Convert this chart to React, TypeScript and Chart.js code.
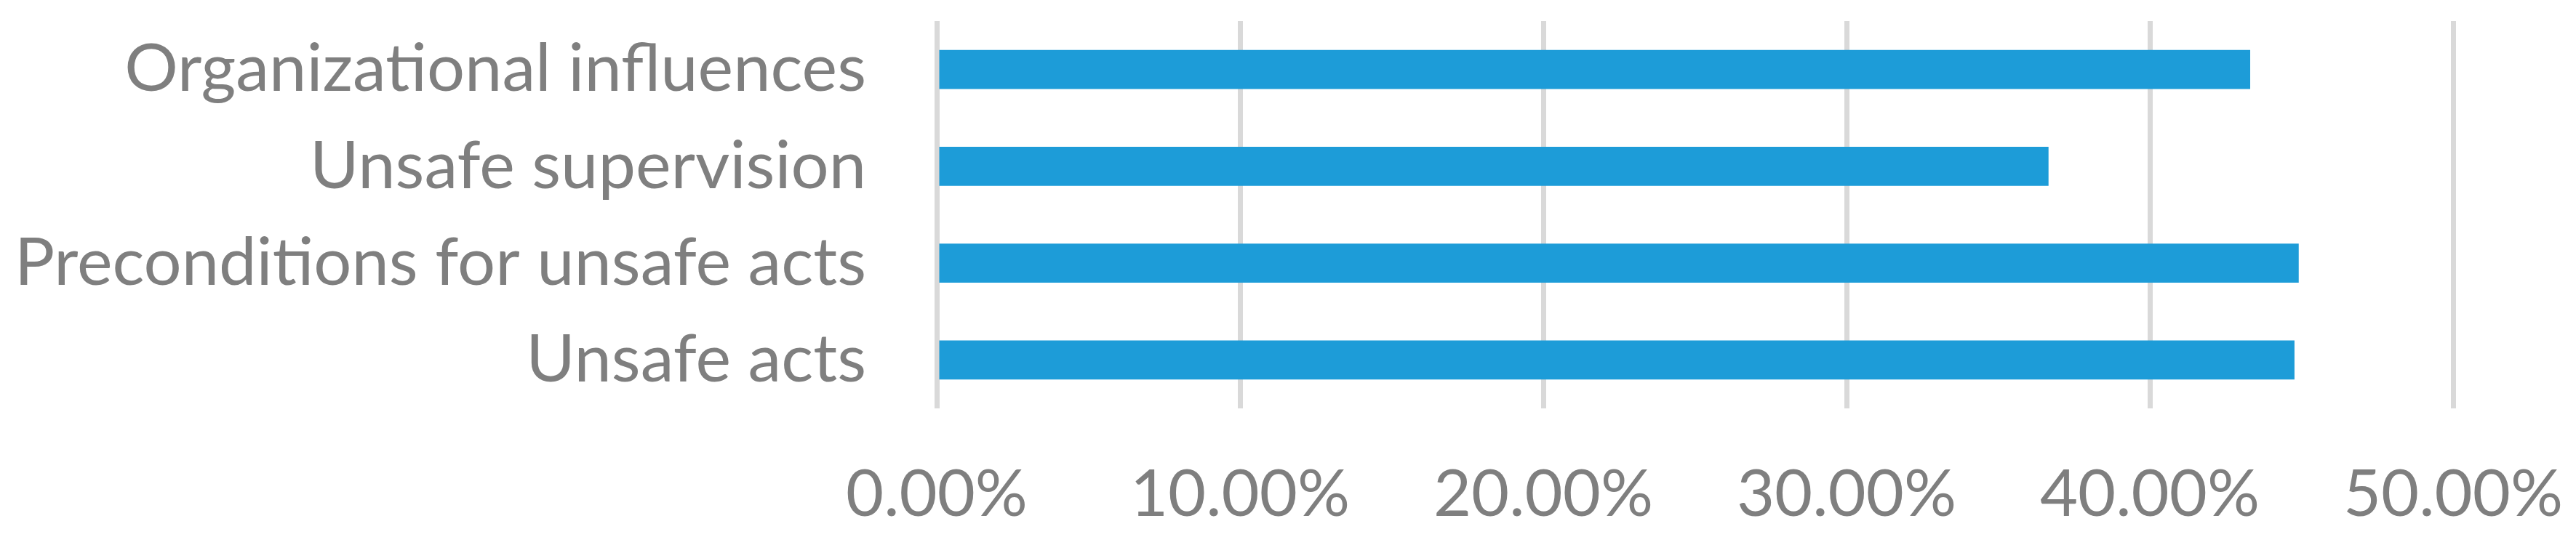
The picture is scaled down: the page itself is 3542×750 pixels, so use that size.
import { useEffect, useRef } from 'react';
import { Chart, registerables } from 'chart.js';

Chart.register(...registerables);

const categories = [
  'Organizational influences',
  'Unsafe supervision',
  'Preconditions for unsafe acts',
  'Unsafe acts',
];
const shares = [0.4331, 0.3666, 0.4491, 0.4477];
const tickValues = [0, 0.1, 0.2, 0.3, 0.4, 0.5];

export default function App() {
  const ref = useRef<HTMLCanvasElement>(null);
  useEffect(() => {
    const chart = new Chart(ref.current!, {
      type: 'bar',
      data: {
        labels: categories,
        datasets: [
          {
            data: shares,
            backgroundColor: '#1D9CD8',
            borderWidth: 0,
            categoryPercentage: 1,
            barPercentage: 0.405,
          },
        ],
      },
      options: {
        indexAxis: 'y',
        animation: false,
        responsive: true,
        maintainAspectRatio: false,
        layout: { padding: { top: 29, right: 169, bottom: 0, left: 0 } },
        plugins: { legend: { display: false }, tooltip: { enabled: false } },
        scales: {
          x: {
            min: 0,
            max: 0.5,
            border: { display: false },
            grid: { color: '#D9D9D9', lineWidth: 7, drawTicks: false },
            afterBuildTicks: (s: any) => {
              s.ticks = tickValues.map((v) => ({ value: v }));
            },
            ticks: {
              padding: 65,
              color: '#7F7F7F',
              font: { family: 'Lato', size: 90 },
              maxRotation: 0,
              autoSkip: false,
              callback: (v: any) => (Number(v) * 100).toFixed(2) + '%',
            },
            afterFit: (s: any) => {
              s.height = 188;
              s.paddingLeft = 0;
              s.paddingRight = 0;
            },
          },
          y: {
            border: { display: false },
            grid: { display: false, drawTicks: false },
            ticks: {
              padding: 97,
              color: '#7F7F7F',
              font: { family: 'Lato', size: 92 },
              autoSkip: false,
            },
            afterFit: (s: any) => {
              s.width = 1288;
              s.paddingTop = 0;
              s.paddingBottom = 0;
            },
          },
        },
      },
    });
    return () => chart.destroy();
  }, []);
  return (
    <div
      style={{
        position: 'fixed',
        left: 0,
        top: 0,
        width: '3542px',
        height: '750px',
        background: '#fff',
      }}
    >
      <canvas ref={ref} />
    </div>
  );
}
